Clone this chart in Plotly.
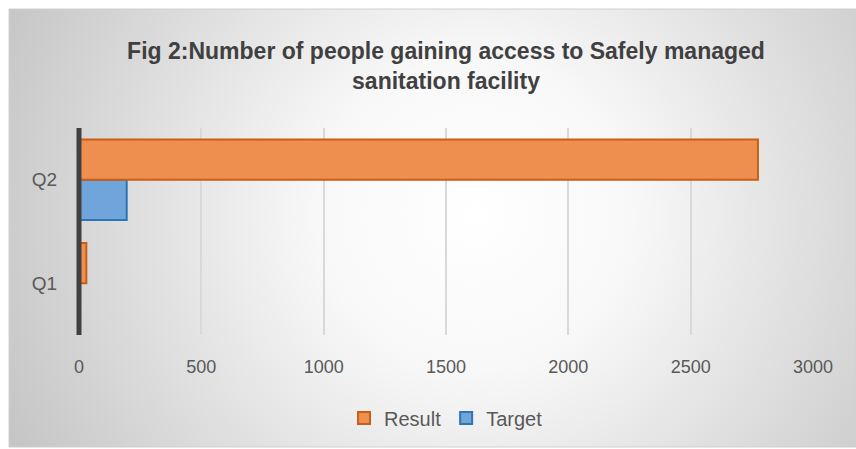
import base64
import plotly.graph_objects as go

categories = ["Q1", "Q2"]
result_values = [30, 2775]
target_values = [0, 195]
x_ticks = [0, 500, 1000, 1500, 2000, 2500, 3000]

W, H = 856, 449
L, R, T, B = 79, 43, 128, 114
pw, ph = W - L - R, H - T - B

svg = """<svg xmlns='http://www.w3.org/2000/svg' width='847' height='438' viewBox='0 0 847 438' preserveAspectRatio='none'>
<defs><radialGradient id='g' cx='0.55' cy='0.47' r='0.62' gradientTransform='translate(0.55 0.47) scale(1 1.9) translate(-0.55 -0.47)'>
<stop offset='0' stop-color='#ffffff'/><stop offset='0.3' stop-color='#f8f8f8'/><stop offset='1' stop-color='#c4c4c4'/></radialGradient></defs>
<rect width='847' height='438' fill='url(#g)'/></svg>"""
src = "data:image/svg+xml;base64," + base64.b64encode(svg.encode()).decode()

font_family = "Liberation Sans, Arial, sans-serif"

fig = go.Figure()
fig.add_trace(go.Bar(
    y=categories, x=target_values, orientation="h", name="Target",
    marker=dict(color="#6FA5DA", line=dict(color="#2E75B6", width=2)),
))
fig.add_trace(go.Bar(
    y=categories, x=result_values, orientation="h", name="Result",
    marker=dict(color="#EE8E4F", line=dict(color="#C95F17", width=2)),
))

fig.update_layout(
    width=W, height=H,
    margin=dict(l=L, r=R, t=T, b=B),
    paper_bgcolor="white",
    plot_bgcolor="rgba(0,0,0,0)",
    barmode="group",
    bargap=0.22,
    bargroupgap=0,
    title=dict(
        text="<b>Fig 2:Number of people gaining access to Safely managed<br>sanitation facility</b>",
        x=0.5, xref="paper", xanchor="center",
        y=1 - 59 / H, yref="container", yanchor="middle",
        font=dict(family=font_family, size=23, color="#404040"),
    ),
    font=dict(family=font_family, size=16, color="#595959"),
    xaxis=dict(
        range=[0, 3000], tickvals=x_ticks, ticktext=[str(v) for v in x_ticks],
        showgrid=True, gridcolor="#D9D9D9", gridwidth=2,
        zeroline=False, showline=False, ticks="", ticklabelstandoff=19,
        tickfont=dict(size=18, color="#595959"), fixedrange=True,
    ),
    yaxis=dict(
        showgrid=False, zeroline=False, showline=False, ticks="",
        ticklabelstandoff=21, tickfont=dict(size=19, color="#595959"),
    ),
    legend=dict(
        orientation="h", x=0.5, xanchor="center", xref="paper",
        y=1 - 418 / H, yref="container", yanchor="middle",
        traceorder="reversed", font=dict(size=20, color="#595959"),
        bgcolor="rgba(0,0,0,0)", itemwidth=30,
    ),
    images=[dict(
        source=src, xref="paper", yref="paper",
        x=(9 - L) / pw, y=(H - B - 9) / ph,
        sizex=847 / pw, sizey=438 / ph,
        sizing="stretch", xanchor="left", yanchor="top", layer="below",
    )],
    shapes=[
        dict(type="line", xref="paper", yref="paper", x0=0, x1=0, y0=0, y1=1,
             line=dict(color="#404040", width=5), layer="above"),
        dict(type="rect", xref="paper", yref="paper",
             x0=(9 - L) / pw, x1=(856 - L) / pw, y0=(H - B - 447) / ph, y1=(H - B - 9) / ph,
             line=dict(color="#D0D0D0", width=1), layer="below"),
    ],
)

fig.write_html("out.html")
